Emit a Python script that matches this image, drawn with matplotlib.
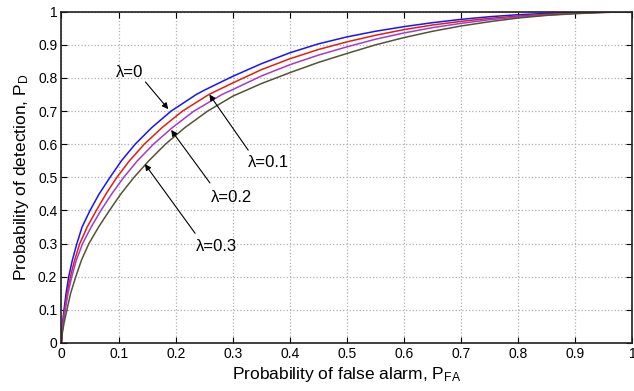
import matplotlib
matplotlib.use("Agg")
import matplotlib.pyplot as plt
from matplotlib.ticker import FuncFormatter

plt.rcParams['font.family'] = ['Liberation Sans', 'DejaVu Sans']
plt.rcParams['mathtext.fontset'] = 'custom'
plt.rcParams['mathtext.rm'] = 'Liberation Sans'
plt.rcParams['mathtext.it'] = 'Liberation Sans'

# curves (P_FA, P_D), one pair of lists per lambda
pfa_l0 = [0, 0.0006, 0.0018, 0.0044, 0.008, 0.0126, 0.019, 0.027, 0.036, 0.050, 0.066, 0.085,
          0.105, 0.129, 0.158, 0.192, 0.236, 0.25, 0.3, 0.35, 0.4, 0.45, 0.5, 0.55, 0.6,
          0.65, 0.7, 0.75, 0.8, 0.85, 0.9, 0.95, 1.0]
pd_l0 = [0, 0.03, 0.06, 0.1, 0.15, 0.2, 0.25, 0.3, 0.35, 0.4, 0.45, 0.5,
         0.55, 0.6, 0.65, 0.7, 0.75, 0.763, 0.805, 0.843, 0.876, 0.903, 0.924, 0.941, 0.955,
         0.967, 0.977, 0.985, 0.991, 0.995, 0.998, 0.9995, 1.0]

pfa_l1 = [0, 0.0008, 0.0023, 0.0054, 0.0098, 0.0155, 0.023, 0.032, 0.045, 0.061, 0.078, 0.097,
          0.119, 0.145, 0.176, 0.212, 0.258, 0.3, 0.35, 0.4, 0.45, 0.5, 0.55, 0.6,
          0.65, 0.7, 0.75, 0.8, 0.85, 0.9, 0.95, 1.0]
pd_l1 = [0, 0.03, 0.06, 0.1, 0.15, 0.2, 0.25, 0.3, 0.35, 0.4, 0.45, 0.5,
         0.55, 0.6, 0.65, 0.7, 0.75, 0.785, 0.825, 0.858, 0.886, 0.909, 0.929, 0.946,
         0.960, 0.971, 0.980, 0.987, 0.992, 0.996, 0.999, 1.0]

pfa_l2 = [0, 0.001, 0.003, 0.0066, 0.0115, 0.018, 0.026, 0.037, 0.052, 0.069, 0.088, 0.109,
          0.133, 0.161, 0.194, 0.232, 0.281, 0.3, 0.35, 0.4, 0.45, 0.5, 0.55, 0.6,
          0.65, 0.7, 0.75, 0.8, 0.85, 0.9, 0.95, 1.0]
pd_l2 = [0, 0.03, 0.06, 0.1, 0.15, 0.2, 0.25, 0.3, 0.35, 0.4, 0.45, 0.5,
         0.55, 0.6, 0.65, 0.7, 0.75, 0.765, 0.806, 0.840, 0.869, 0.894, 0.917, 0.936,
         0.952, 0.965, 0.976, 0.984, 0.990, 0.995, 0.998, 1.0]

pfa_l3 = [0, 0.0015, 0.0045, 0.0095, 0.016, 0.025, 0.035, 0.048, 0.065, 0.084, 0.104, 0.127,
          0.153, 0.182, 0.216, 0.256, 0.3, 0.35, 0.4, 0.45, 0.5, 0.55, 0.6,
          0.65, 0.7, 0.75, 0.8, 0.85, 0.9, 0.95, 1.0]
pd_l3 = [0, 0.03, 0.06, 0.1, 0.15, 0.2, 0.25, 0.3, 0.35, 0.4, 0.45, 0.5,
         0.55, 0.6, 0.65, 0.7, 0.745, 0.783, 0.816, 0.847, 0.874, 0.900, 0.922,
         0.941, 0.957, 0.970, 0.981, 0.989, 0.994, 0.998, 1.0]

labels = ['λ=0', 'λ=0.1', 'λ=0.2', 'λ=0.3']
colors = ['#1414ff', '#e0200c', '#a03cd0', '#545434']

fig = plt.figure(figsize=(6.34, 3.91), dpi=100)
ax = fig.add_axes([0.097, 0.123, 0.9006, 0.847])

curves = [(pfa_l0, pd_l0), (pfa_l1, pd_l1), (pfa_l2, pd_l2), (pfa_l3, pd_l3)]
for (x, y), c in zip(curves, colors):
    ax.plot(x, y, color=c, lw=1.1, solid_joinstyle='round')

# annotations: text position, arrow tail, arrow tip
ann = [
    ((0.120, 0.818), (0.147, 0.788), (0.187, 0.706)),
    ((0.363, 0.544), (0.327, 0.582), (0.259, 0.750)),
    ((0.298, 0.440), (0.260, 0.483), (0.192, 0.643)),
    ((0.272, 0.291), (0.234, 0.331), (0.146, 0.540)),
]
for lab, (tpos, tail, tip) in zip(labels, ann):
    ax.text(tpos[0], tpos[1], lab, fontsize=12, ha='center', va='center')
    ax.annotate('', xy=tip, xytext=tail,
                arrowprops=dict(arrowstyle='-|>', color='black', lw=0.8,
                                mutation_scale=9, shrinkA=0, shrinkB=0))

ax.set_xlim(0, 1)
ax.set_ylim(0, 1)
ticks = [0, 0.1, 0.2, 0.3, 0.4, 0.5, 0.6, 0.7, 0.8, 0.9, 1]
ax.set_xticks(ticks)
ax.set_yticks(ticks)
fmt = FuncFormatter(lambda v, p: '%g' % round(v, 2))
ax.xaxis.set_major_formatter(fmt)
ax.yaxis.set_major_formatter(fmt)
ax.tick_params(direction='in', top=True, right=True, length=4, width=0.8,
               labelsize=10, pad=3)
ax.grid(True, linestyle=':', color='#b0b0b0', lw=0.9)
for s in ax.spines.values():
    s.set_linewidth(1.2)
    s.set_color('#202020')

ax.set_xlabel(r'Probability of false alarm, P$_{\mathrm{FA}}$', fontsize=12.5, labelpad=3)
ax.set_ylabel(r'Probability of detection, P$_{\mathrm{D}}$', fontsize=12.5, labelpad=5)

fig.savefig('out.png', dpi=100)
